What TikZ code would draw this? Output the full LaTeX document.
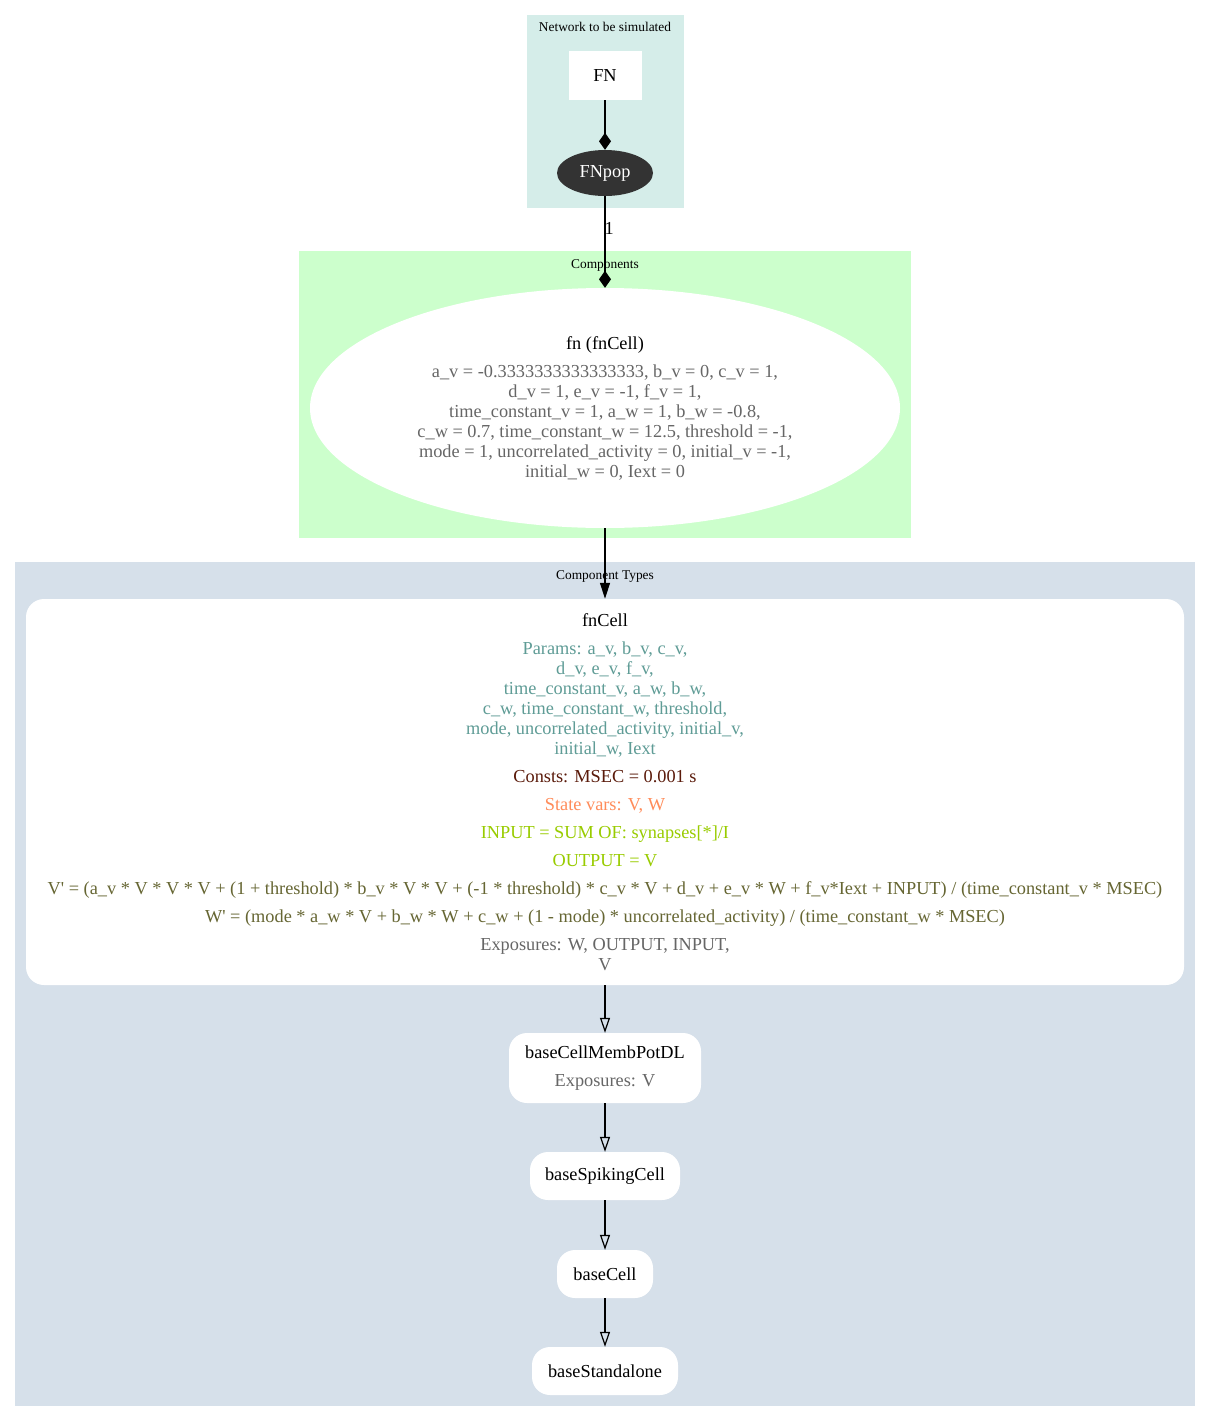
\documentclass[tikz,border=0pt]{standalone}
\usepackage{fontspec}
\setmainfont{Liberation Serif}[Ligatures=TeXOff]
\usetikzlibrary{shapes.geometric,arrows.meta}
\definecolor{netbg}{HTML}{D5EDE9}
\definecolor{compbg}{HTML}{CCFFCC}
\definecolor{typebg}{HTML}{D6E0EA}
\definecolor{popfill}{HTML}{333333}
\definecolor{paramc}{HTML}{5F9C96}
\definecolor{constc}{HTML}{5A1A0A}
\definecolor{statec}{HTML}{FF8C5A}
\definecolor{ioc}{HTML}{99CC00}
\definecolor{eqc}{HTML}{666633}
\definecolor{grayc}{HTML}{666666}
\newcommand{\bodyfont}{\fontsize{18.3}{20}\selectfont}
\newcommand{\clusterfont}{\fontsize{13.4}{14}\selectfont}
\tikzset{
  clusterlabel/.style={font=\clusterfont, inner sep=0pt, anchor=base},
  whitebox/.style={fill=white, draw=none, rounded corners=18, align=center, font=\bodyfont, inner sep=0pt},
  edge/.style={line width=1.2, black},
  diamondedge/.style={edge, -{Diamond[length=17, width=12]}},
  solidedge/.style={edge, -{Triangle[length=16, width=10]}},
  openedge/.style={edge, -{Triangle[open, length=15, width=10]}},
}
\begin{document}
\begin{tikzpicture}[x=1pt, y=-1pt]
\useasboundingbox (0,0) rectangle (1211,1422);
\fill[white] (0,0) rectangle (1211,1422);

% cluster backgrounds
\fill[netbg]  (527,15)  rectangle (684,208);
\fill[compbg] (299,251) rectangle (911,538);
\fill[typebg] (15,562)  rectangle (1195,1406);
\node[clusterlabel] (lnet)  at (605,31)  {Network to be simulated};
\node[clusterlabel] (lcomp) at (605,268) {Components};
\node[clusterlabel] (ltype) at (605,579) {Component Types};

% network
\node[fill=white, minimum width=73, minimum height=49, inner sep=0pt, font=\bodyfont] (FN) at (605,75.5) {FN};
\node[ellipse, fill=popfill, text=white, minimum width=96, minimum height=46, inner sep=0pt, font=\bodyfont] (FNpop) at (605,173) {FNpop};

% component instance
\node[ellipse, fill=white, minimum width=590, minimum height=240, inner sep=0pt, align=center, font=\bodyfont] (fn) at (605,408)
{fn (fnCell)\\[8pt]
\color{grayc}a\_v = -0.3333333333333333, b\_v = 0, c\_v = 1,\\
\color{grayc}d\_v = 1, e\_v = -1, f\_v = 1,\\
\color{grayc}time\_constant\_v = 1, a\_w = 1, b\_w = -0.8,\\
\color{grayc}c\_w = 0.7, time\_constant\_w = 12.5, threshold = -1,\\
\color{grayc}mode = 1, uncorrelated\_activity = 0, initial\_v = -1,\\
\color{grayc}initial\_w = 0, Iext = 0};

% component types
\node[whitebox, minimum width=1158, minimum height=386] (fnCell) at (605,792)
{fnCell\\[8pt]
\color{paramc}Params: a\_v, b\_v, c\_v,\\
\color{paramc}d\_v, e\_v, f\_v,\\
\color{paramc}time\_constant\_v, a\_w, b\_w,\\
\color{paramc}c\_w, time\_constant\_w, threshold,\\
\color{paramc}mode, uncorrelated\_activity, initial\_v,\\
\color{paramc}initial\_w, Iext\\[8pt]
\color{constc}Consts: MSEC = 0.001 s\\[8pt]
\color{statec}State vars: V, W\\[8pt]
\color{ioc}INPUT = SUM OF: synapses[*]/I\\[8pt]
\color{ioc}OUTPUT = V\\[8pt]
\color{eqc}V' = (a\_v * V * V * V + (1 + threshold) * b\_v * V * V + (-1 * threshold) * c\_v * V + d\_v + e\_v * W + f\_v*Iext + INPUT) / (time\_constant\_v * MSEC)\\[8pt]
\color{eqc}W' = (mode * a\_w * V + b\_w * W + c\_w + (1 - mode) * uncorrelated\_activity) / (time\_constant\_w * MSEC)\\[8pt]
\color{grayc}Exposures: W, OUTPUT, INPUT,\\
\color{grayc}V};

\node[whitebox, minimum width=192, minimum height=70] (membpot) at (605,1068)
{baseCellMembPotDL\\[8pt]\color{grayc}Exposures: V};
\node[whitebox, minimum width=150, minimum height=48] (spiking) at (605,1176) {baseSpikingCell};
\node[whitebox, minimum width=96, minimum height=48] (basecell) at (605,1274) {baseCell};
\node[whitebox, minimum width=146, minimum height=48] (standalone) at (605,1371) {baseStandalone};

% connectors
\draw[diamondedge] (FN.south) -- (FNpop.north);
\draw[diamondedge] (FNpop.south) -- node[pos=0.35, right=-1pt, font=\bodyfont, inner sep=0pt] (cnt) {1} (fn.north);
\draw[solidedge] (fn.south) -- (fnCell.north);
\draw[openedge] (fnCell.south) -- (membpot.north);
\draw[openedge] (membpot.south) -- (spiking.north);
\draw[openedge] (spiking.south) -- (basecell.north);
\draw[openedge] (basecell.south) -- (standalone.north);
\end{tikzpicture}
\end{document}
